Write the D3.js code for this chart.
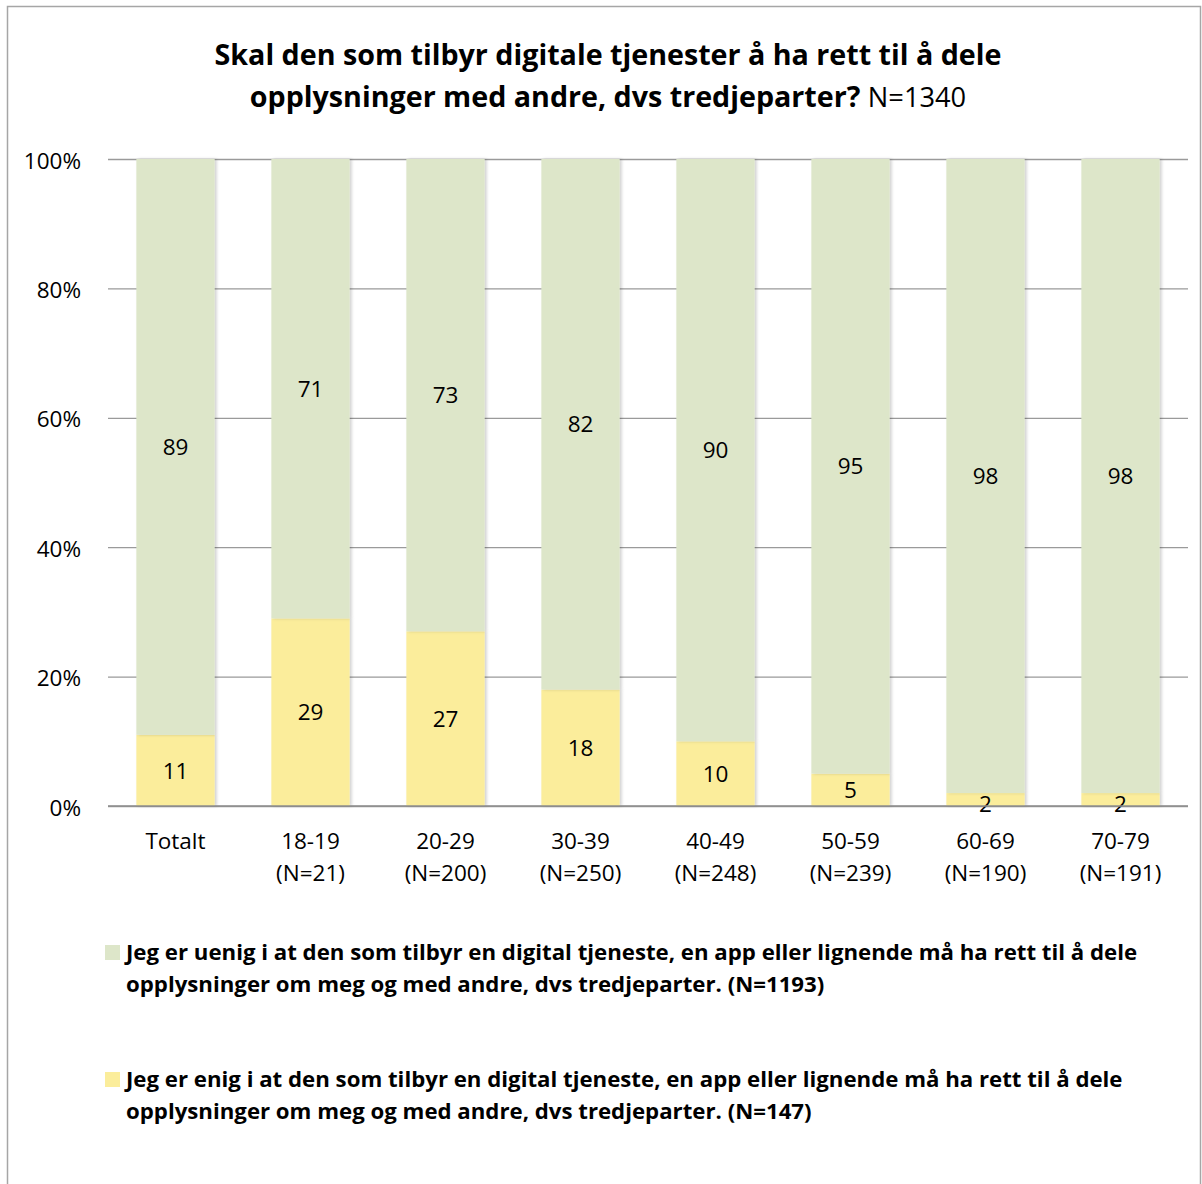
<!DOCTYPE html>
<html>
<head>
<meta charset="utf-8">
<script src="https://cdn.jsdelivr.net/npm/d3@7"></script>
<style>
  body { margin: 0; background: #fff; }
  svg text { font-family: "Open Sans", Lato, sans-serif; fill: #000; }
</style>
</head>
<body>
<svg id="chart"></svg>
<script>
// data
const categories = ["Totalt", "18-19", "20-29", "30-39", "40-49", "50-59", "60-69", "70-79"];
const subLabels = ["", "(N=21)", "(N=200)", "(N=250)", "(N=248)", "(N=239)", "(N=190)", "(N=191)"];
const enig = [11, 29, 27, 18, 10, 5, 2, 2];
const uenig = [89, 71, 73, 82, 90, 95, 98, 98];
const yTicks = [0, 20, 40, 60, 80, 100];
const seriesNames = [
  ["Jeg er uenig i at den som tilbyr en digital tjeneste, en app eller lignende må ha rett til å dele",
   "opplysninger om meg og med andre, dvs tredjeparter. (N=1193)"],
  ["Jeg er enig i at den som tilbyr en digital tjeneste, en app eller lignende må ha rett til å dele",
   "opplysninger om meg og med andre, dvs tredjeparter. (N=147)"]
];
const colors = { uenig: "#dde6c9", enig: "#fbed9b" };

const width = 1202, height = 1184;
const margin = { top: 159, right: 14, bottom: 378, left: 108 };
const labelSize = 22.5;

const svg = d3.select("#chart").attr("width", width).attr("height", height);

// scale a text's font size so that it spans the given width
const fitWidth = (text, target) => {
  const size = +text.attr("font-size");
  const w = text.node().getComputedTextLength();
  text.attr("font-size", (size * target / w).toFixed(2));
};

// outer frame
svg.append("rect")
  .attr("x", 7.5).attr("y", 6.5)
  .attr("width", width - 9).attr("height", height)
  .attr("fill", "none").attr("stroke", "#a6a6a6").attr("stroke-width", 1.5);

// title
const title1 = svg.append("text").attr("text-anchor", "middle").attr("font-size", 28)
  .attr("font-weight", "bold").attr("x", 608).attr("y", 65)
  .text("Skal den som tilbyr digitale tjenester å ha rett til å dele");
fitWidth(title1, 787);
const title2 = svg.append("text").attr("text-anchor", "middle").attr("font-size", title1.attr("font-size"))
  .attr("x", 608).attr("y", 107);
title2.append("tspan").attr("font-weight", "bold").text("opplysninger med andre, dvs tredjeparter? ");
title2.append("tspan").attr("font-weight", "normal").attr("font-size", +title1.attr("font-size") * 0.95).text("N=1340");

const x = d3.scaleBand()
  .domain(categories)
  .range([margin.left, width - margin.right])
  .paddingInner(0.42)
  .paddingOuter(0.21);

const y = d3.scaleLinear()
  .domain([0, 100])
  .range([height - margin.bottom, margin.top]);

// gridlines + y labels
const yAxis = svg.append("g")
  .attr("transform", `translate(${margin.left},0)`)
  .call(d3.axisLeft(y).tickValues(yTicks).tickFormat(d => d + "%")
    .tickSize(-(width - margin.right - margin.left)).tickPadding(27))
  .call(g => g.select(".domain").remove());
yAxis.selectAll(".tick line").attr("stroke", "#9a9a9a").attr("stroke-width", 1.3);
yAxis.selectAll(".tick text").attr("font-size", labelSize).attr("fill", "#000")
  .style("font-family", "'Open Sans', Lato, sans-serif").attr("dy", "0.4em");

// shadow filter
const defs = svg.append("defs");
const f = defs.append("filter").attr("id", "shadow").attr("x", "-10%").attr("width", "125%");
f.append("feDropShadow").attr("dx", 2).attr("dy", 0).attr("stdDeviation", 1.5)
  .attr("flood-color", "#000").attr("flood-opacity", 0.18);

const rows = categories.map((c, i) => ({ cat: c, enig: enig[i], uenig: uenig[i] }));
const stack = d3.stack().keys(["enig", "uenig"])(rows);

const layers = svg.append("g").selectAll("g")
  .data(stack)
  .join("g")
  .attr("fill", d => colors[d.key]);

layers.selectAll("rect")
  .data(d => d)
  .join("rect")
  .attr("x", d => x(d.data.cat))
  .attr("width", x.bandwidth())
  .attr("y", d => y(d[1]))
  .attr("height", d => y(d[0]) - y(d[1]))
  .attr("filter", "url(#shadow)");

// value labels
layers.selectAll("text")
  .data(d => d.map(v => ({ v, key: d.key })))
  .join("text")
  .attr("x", d => x(d.v.data.cat) + x.bandwidth() / 2)
  .attr("y", d => {
    const mid = y((d.v[0] + d.v[1]) / 2);
    return d.v[1] - d.v[0] < 4 ? mid + 4 : mid;
  })
  .attr("dy", "0.36em")
  .attr("text-anchor", "middle")
  .attr("font-size", labelSize)
  .text(d => d.v.data[d.key]);

// baseline
svg.append("line")
  .attr("x1", margin.left).attr("x2", width - margin.right)
  .attr("y1", y(0)).attr("y2", y(0))
  .attr("stroke", "#8c8c8c").attr("stroke-width", 1.5);

// x labels
const xl = svg.append("g").selectAll("text")
  .data(categories)
  .join("text")
  .attr("text-anchor", "middle")
  .attr("font-size", labelSize);
xl.append("tspan")
  .attr("x", d => x(d) + x.bandwidth() / 2)
  .attr("y", y(0) + 43)
  .text(d => d);
xl.append("tspan")
  .attr("x", d => x(d) + x.bandwidth() / 2)
  .attr("y", y(0) + 75)
  .text((d, i) => subLabels[i]);

// legend
const legend = svg.append("g").selectAll("g")
  .data([{ key: "uenig", lines: seriesNames[0] }, { key: "enig", lines: seriesNames[1] }])
  .join("g")
  .attr("transform", (d, i) => `translate(105, ${945 + i * 127})`);
legend.append("rect")
  .attr("width", 15).attr("height", 15)
  .attr("fill", d => colors[d.key]);
const legendText = legend.append("text")
  .attr("font-size", 21).attr("font-weight", "bold");
legendText.selectAll("tspan")
  .data(d => d.lines)
  .join("tspan")
  .attr("x", 21)
  .attr("y", (d, i) => 15 + i * 32)
  .text(d => d);
// size legend so the first line spans like the reference
const probe = svg.append("text").attr("font-size", 21).attr("font-weight", "bold").text(seriesNames[0][0]);
fitWidth(probe, 1011);
legendText.attr("font-size", probe.attr("font-size"));
probe.remove();
</script>
</body>
</html>
